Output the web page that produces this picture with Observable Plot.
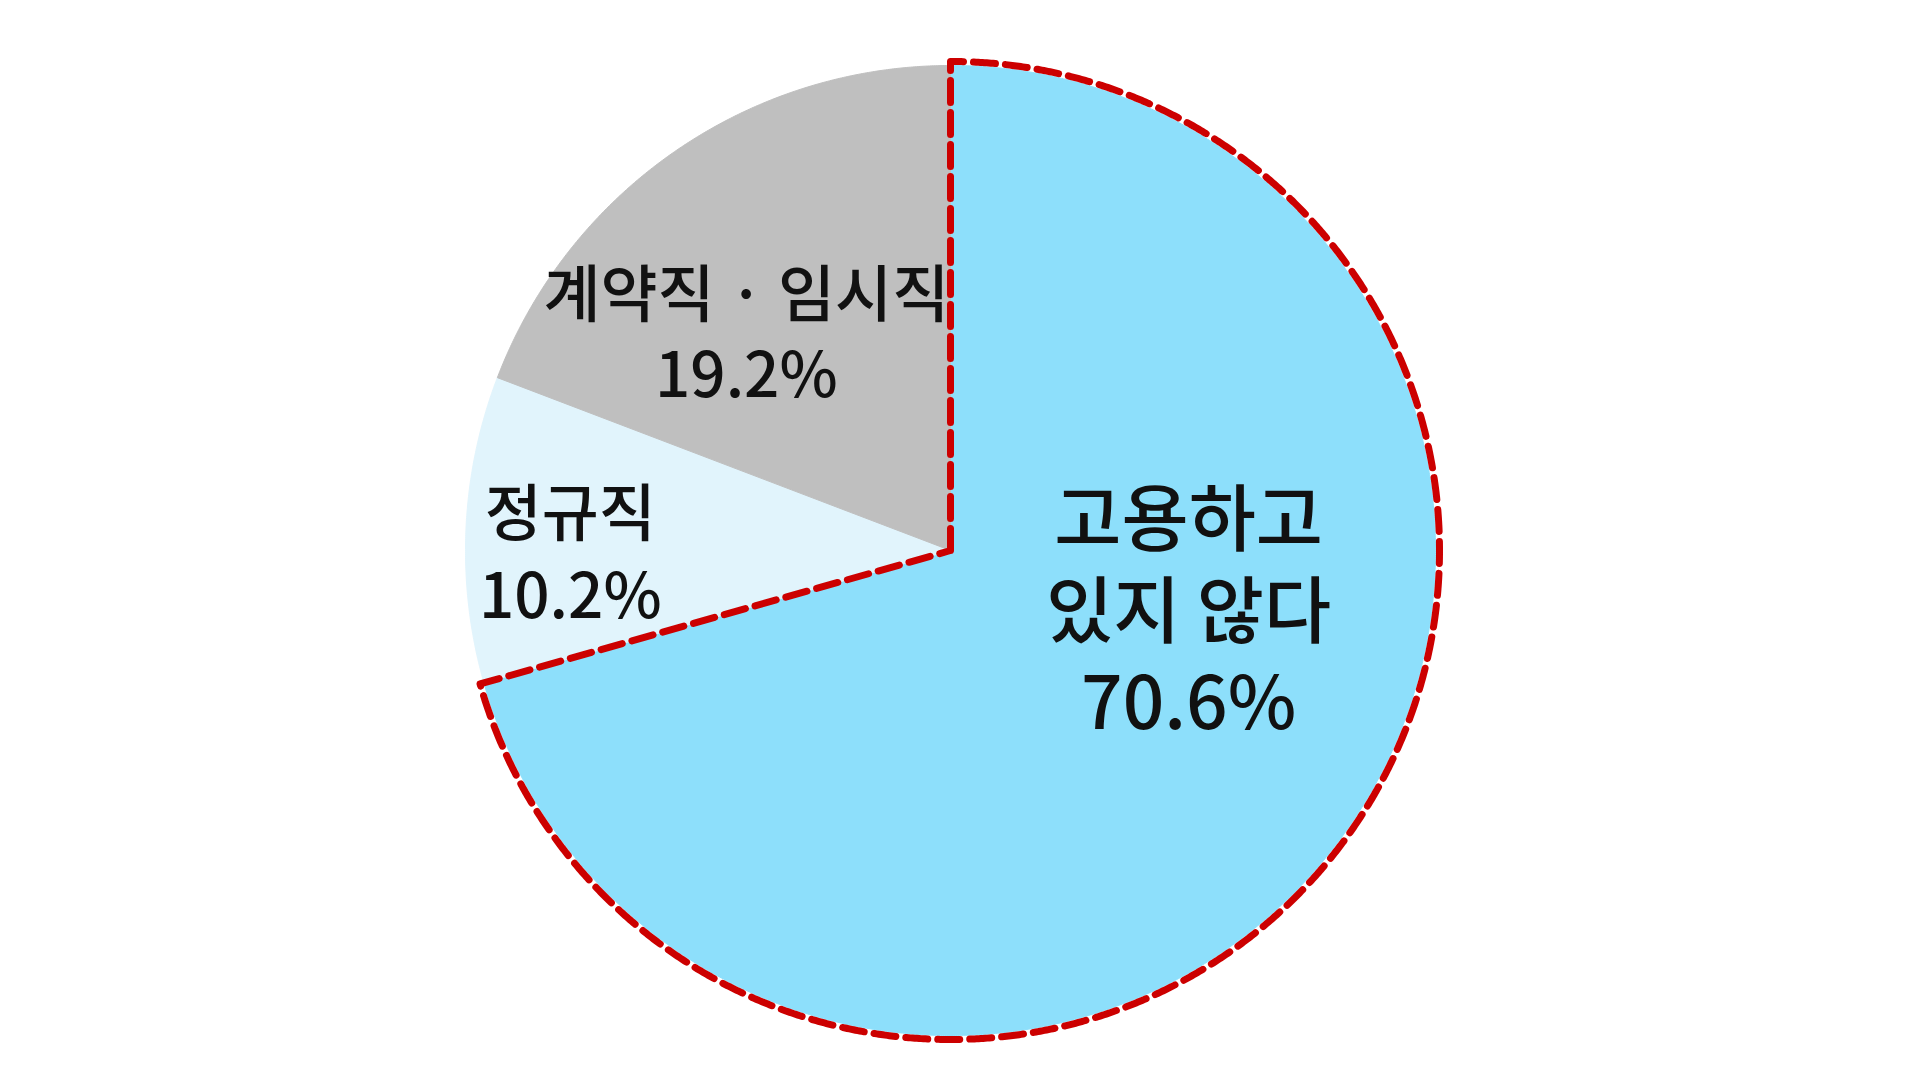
<!DOCTYPE html>
<html><head><meta charset="utf-8">
<script src="https://cdn.jsdelivr.net/npm/d3@7"></script>
<script src="https://cdn.jsdelivr.net/npm/@observablehq/plot@0.6"></script>
<style>html,body{margin:0;padding:0;background:#fff;overflow:hidden}</style>
</head><body><div id="chart"></div>
<script>
// ---- data ----
const categories = ["고용하고 있지 않다", "정규직", "계약직·임시직"];
const values = [70.6, 10.2, 19.2];
const labelTexts = ["고용하고\n있지 않다\n70.6%", "정규직\n10.2%", "계약직 · 임시직\n19.2%"];
const colors = ["#8ddffb", "#e1f4fc", "#bfbfbf"];

// ---- layout ----
const W = 1920, H = 1080, cx = 950, cy = 550, R = 485;
const labelLayout = [
  {x: 0.491, y: -0.118, size: 73, lh: 1.26},
  {x: -0.784, y: 0.0, size: 62, lh: 1.32},
  {x: -0.421, y: 0.452, size: 62, lh: 1.29}
];

const total = d3.sum(values);
let acc = 0;
const slices = values.map((v, i) => {
  const a0 = acc / total * 2 * Math.PI; acc += v;
  const a1 = acc / total * 2 * Math.PI;
  return {i, cat: categories[i], a0, a1};
});
function arcPoints(a0, a1, r, key) {
  const pts = [{x: 0, y: 0, key}];
  const n = Math.max(2, Math.ceil((a1 - a0) / (Math.PI / 720)));
  for (let k = 0; k <= n; k++) {
    const a = a0 + (a1 - a0) * k / n;
    pts.push({x: r * Math.sin(a), y: r * Math.cos(a), key});
  }
  pts.push({x: 0, y: 0, key});
  return pts;
}

const marks = [];
slices.forEach((s, i) => {
  marks.push(Plot.line(arcPoints(s.a0, s.a1, 1, s.cat), {x: "x", y: "y", fill: colors[i], stroke: colors[i], strokeWidth: 1}));
});
// dashed outline around the largest slice
const big = slices[0];
marks.push(Plot.line(arcPoints(big.a0, big.a1, (R + 4) / R, "outline"), {
  x: "x", y: "y", stroke: "#cc0000", strokeWidth: 7,
  strokeDasharray: "22,10", strokeLinejoin: "round", fill: "none"
}));
labelTexts.forEach((t, i) => {
  const L = labelLayout[i];
  marks.push(Plot.text([{t}], {
    x: () => L.x, y: () => L.y, text: "t", fontSize: L.size, lineHeight: L.lh,
    fill: "#111", textAnchor: "middle", lineAnchor: "middle",
    fontFamily: "'Noto Sans CJK KR', 'Noto Sans', sans-serif", fontWeight: 500
  }));
});

const chart = Plot.plot({
  width: W, height: H,
  marginTop: 0, marginBottom: 0, marginLeft: 0, marginRight: 0,
  x: {domain: [(0 - cx) / R, (W - cx) / R], axis: null},
  y: {domain: [(cy - H) / R, cy / R], axis: null},
  style: {background: "#fff", overflow: "visible"},
  marks
});
document.getElementById("chart").appendChild(chart);
</script>
</body></html>
